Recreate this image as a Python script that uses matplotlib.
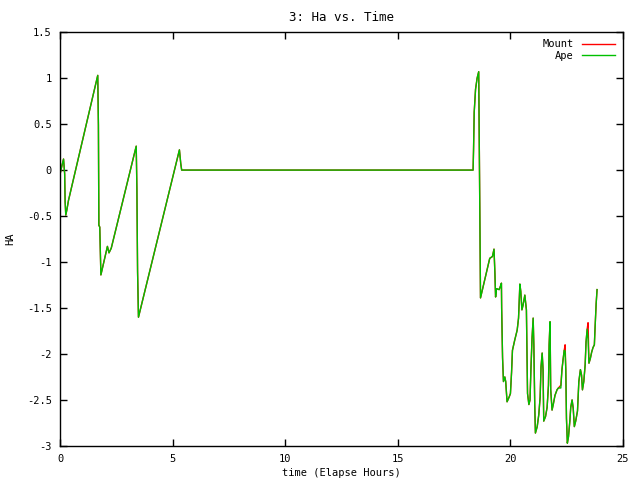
import matplotlib
matplotlib.use('Agg')
import matplotlib.pyplot as plt

plt.rcParams['font.family'] = ['DejaVu Sans Mono']
plt.rcParams['font.size'] = 7.5

# elapsed hours / hour angle (rows kept aligned)
time_h = [0.0, 0.08, 0.15, 0.2, 0.22, 0.25, 0.3, 0.37, 1.67, 1.7,
          1.72, 1.76, 1.81, 2.1, 2.17, 2.27, 3.38, 3.41, 3.44, 3.48,
          5.3, 5.36, 5.4, 18.35, 18.37, 18.4, 18.46, 18.53, 18.6, 18.64,
          18.68, 19.09, 19.21, 19.28, 19.32, 19.35, 19.39, 19.51, 19.57, 19.61,
          19.62, 19.66, 19.7, 19.76, 19.8, 19.86, 19.95, 20.01, 20.06, 20.1,
          20.2, 20.31, 20.37, 20.43, 20.47, 20.52, 20.57, 20.65, 20.72, 20.77,
          20.83, 20.88, 20.92, 20.97, 21.02, 21.05, 21.09, 21.12, 21.2, 21.27,
          21.33, 21.37, 21.42, 21.46, 21.49, 21.57, 21.64, 21.7, 21.73, 21.77,
          21.8, 21.86, 21.92, 21.99, 22.08, 22.14, 22.25, 22.3, 22.35, 22.4,
          22.44, 22.47, 22.5, 22.54, 22.59, 22.65, 22.69, 22.75, 22.8, 22.85,
          22.91, 22.99, 23.05, 23.12, 23.17, 23.21, 23.27, 23.33, 23.37, 23.42,
          23.46, 23.5, 23.56, 23.62, 23.68, 23.74, 23.77, 23.82, 23.86]
ape_ha = [-0.04, 0.05, 0.12, -0.04, -0.34, -0.49, -0.43, -0.33, 1.03, 0.49,
          -0.6, -0.62, -1.14, -0.83, -0.9, -0.85, 0.26, -0.2, -1.1, -1.6,
          0.22, 0.07, 0.0, 0.0, 0.21, 0.63, 0.88, 1.0, 1.07, -0.16,
          -1.39, -0.96, -0.94, -0.86, -1.12, -1.38, -1.29, -1.3, -1.26, -1.23,
          -1.5, -2.04, -2.3, -2.25, -2.3, -2.52, -2.47, -2.43, -2.2, -1.96,
          -1.85, -1.74, -1.61, -1.24, -1.32, -1.52, -1.47, -1.36, -1.52, -2.43,
          -2.55, -2.5, -2.17, -1.83, -1.61, -1.9, -2.55, -2.86, -2.79, -2.66,
          -2.47, -2.14, -1.99, -2.17, -2.73, -2.68, -2.58, -2.34, -1.9, -1.65,
          -2.39, -2.61, -2.54, -2.45, -2.39, -2.37, -2.37, -2.17, -2.06, -1.96,
          -1.97, -2.17, -2.7, -2.97, -2.9, -2.73, -2.58, -2.5, -2.59, -2.79,
          -2.73, -2.62, -2.3, -2.17, -2.23, -2.39, -2.3, -2.12, -1.87, -1.73,
          -1.84, -2.1, -2.05, -1.98, -1.93, -1.9, -1.72, -1.45, -1.3]
mount_ha = list(ape_ha)
mount_ha[86] = -2.34
mount_ha[90] = -1.90
mount_ha[110] = -1.66

x_ticks = [0, 5, 10, 15, 20, 25]
y_ticks = [1.5, 1, 0.5, 0, -0.5, -1, -1.5, -2, -2.5, -3]
y_labels = ['1.5', '1', '0.5', '0', '-0.5', '-1', '-1.5', '-2', '-2.5', '-3']


def main():
    fig = plt.figure(figsize=(6.4, 4.8), dpi=100)
    ax = fig.add_axes([0.094, 0.071, 0.879, 0.862])

    ax.plot(time_h, mount_ha, color='#ff0000', lw=1, label='Mount')
    ax.plot(time_h, ape_ha, color='#00c000', lw=1, label='Ape')

    ax.set_xlim(0, 25)
    ax.set_ylim(-3, 1.5)
    ax.set_xticks(x_ticks)
    ax.set_yticks(y_ticks)
    ax.set_yticklabels(y_labels)
    ax.tick_params(direction='in', top=True, right=True, length=5, width=1, pad=6)
    for s in ax.spines.values():
        s.set_linewidth(1)

    ax.set_title('3: Ha vs. Time', pad=8)
    ax.set_xlabel('time (Elapse Hours)', labelpad=3)
    ax.set_ylabel('HA', va='center')
    ax.yaxis.set_label_coords(-0.089, 0.5)

    ax.legend(loc='upper right', frameon=False, markerfirst=False,
              handlelength=3.2, handletextpad=0.8, labelspacing=0.15,
              borderaxespad=0.3)

    fig.savefig('out.png', dpi=100)


if __name__ == '__main__':
    main()
